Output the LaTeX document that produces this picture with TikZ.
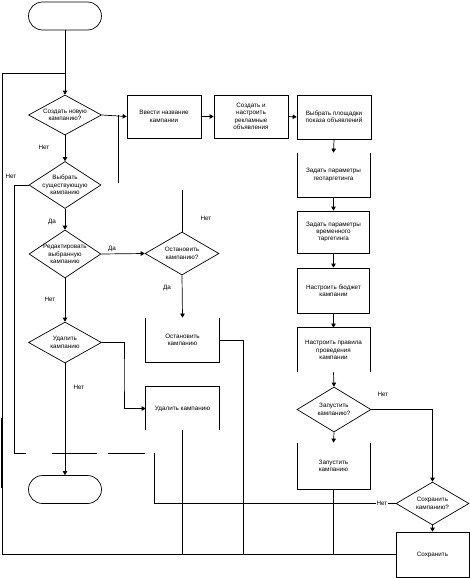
\documentclass[tikz,border=0pt]{standalone}
\usepackage{fontspec}
\setmainfont{Liberation Sans}
\usetikzlibrary{shapes.geometric,arrows.meta}
\begin{document}
\begin{tikzpicture}[x=1pt,y=-1pt,line width=0.7pt,
 every node/.style={font=\fontsize{6.3}{7.4}\selectfont, align=center, inner sep=0pt},
 proc/.style={draw, minimum width=73pt, minimum height=44pt},
 procopen/.style={minimum width=73pt, minimum height=44pt},
 dia/.style={draw, diamond, minimum width=73pt, minimum height=44pt},
 term/.style={draw, rounded corners=14pt, minimum width=73pt, minimum height=28pt},
 lbl/.style={fill=white, inner sep=0.8pt},
 arr/.style={-{Triangle[length=4pt,width=4.5pt]}},
 thickside/.style={line width=1.3pt}]
\useasboundingbox (0,0) rectangle (470,578);
\fill[white] (0,0) rectangle (470,578);

% terminals
\node[term] (t1) at (65,16) {};
\node[term] (t2) at (65,489.5) {};

% left column diamonds
\node[dia, minimum width=73pt, minimum height=40pt] (d1) at (65,115) {};
\node (d1t) at (d1) {Создать новую\\кампанию?};
\node[dia, minimum width=72pt, minimum height=47pt] (d2) at (65,185) {};
\node (d2t) at (d2) {Выбрать\\существующую\\кампанию};
\node[dia, minimum width=72pt, minimum height=48pt] (d3) at (65,254) {};
\node (d3t) at (d3) {Редактировать\\выбранную\\кампанию};
\node[dia, minimum width=73pt, minimum height=41pt] (d5) at (65,342.5) {};
\node (d5t) at (d5) {Удалить\\кампанию};

% middle column
\node[dia, minimum width=74pt, minimum height=43pt] (d4) at (182,253.5) {};
\node (d4t) at (d4) {Остановить\\кампанию?};
\node[procopen] (ost) at (182.5,340) {Остановить\\кампанию};
\draw[thickside] (ost.north west) -- (ost.south west) -- (ost.south east) -- (ost.north east);
\node[procopen, minimum height=43pt] (del) at (182.5,408.5) {Удалить кампанию};
\draw[thickside] (del.south west) -- (del.north west) -- (del.north east) -- (del.south east);

% top row
\node[proc, minimum width=74pt, minimum height=43pt] (b1) at (164,116.5) {Ввести название\\кампании};
\node[proc, minimum width=74pt, minimum height=43pt] (b2) at (251,116.5) {Создать и\\настроить\\рекламные\\объявления};
\node[proc, minimum width=74pt, minimum height=44pt] (b3) at (334,117) {Выбрать площадки\\показа объявлений};

% right column
\node[procopen, minimum width=72pt] (b4) at (333.5,175) {Задать параметры\\геотаргетинга};
\draw (b4.north west) -- (b4.south west) -- (b4.south east) -- (b4.north east);
\node[proc, minimum width=72pt, minimum height=42pt] (b5) at (333.5,232) {Задать параметры\\временного\\таргетинга};
\node[proc, minimum width=72pt, minimum height=45pt] (b6) at (333.5,290.5) {Настроить бюджет\\кампании};
\node[procopen, minimum width=72pt] (b7) at (333.5,350) {Настроить правила\\проведения\\кампании};
\draw (b7.south west) -- (b7.north west) -- (b7.north east) -- (b7.south east);
\node[dia, minimum width=74pt, minimum height=45pt] (d6) at (334,409.5) {};
\node (d6t) at (d6) {Запустить\\кампанию?};
\node[procopen, minimum width=72pt, minimum height=46pt] (zap) at (333.5,466) {Запустить\\кампанию};
\draw (zap.north west) -- (zap.south west) -- (zap.south east) -- (zap.north east);
\node[dia, minimum width=73pt, minimum height=43pt] (d7) at (432.5,503.5) {};
\node (d7t) at (d7) {Сохранить\\кампанию?};
\node[proc, minimum width=73pt, minimum height=45pt] (save) at (432.5,554.5) {Сохранить};

% coordinates
\coordinate (lpTop) at (2,73);
\coordinate (j1) at (118,183);
\coordinate (k1) at (124,375);
\coordinate (d4in) at (182,190);
\coordinate (g1) at (154,453);
\coordinate (g2c) at (14,453);
\coordinate (g2) at (26,453);
\coordinate (g3a) at (52,453);
\coordinate (g3b) at (97,453);
\coordinate (g4a) at (108,453);
\coordinate (g4b) at (145,453);
\coordinate (ostR) at (243,555);

% connectors
\draw[arr] (t1.south) -- (d1.north);
\draw (save.west) -| (lpTop) -- (lpTop -| t1.south);
\draw[arr] (d1.east) -- (b1.west);
\draw (j1) -- (j1 |- d1.east);
\draw[arr] (b1.east) -- (b2.west);
\draw[arr] (b2.east) -- (b3.west);
\draw[arr] (b3.south) -- (b4.north);
\draw[arr] (b4.south) -- (b5.north);
\draw[arr] (b5.south) -- (b6.north);
\draw[arr] (b6.south) -- (b7.north);
\draw[arr] (b7.south) -- (d6.north);
\draw[arr] (d6.south) -- (zap.north);
\draw[arr] (d6.east) -| (d7.north);
\draw[arr] (d7.south) -- (save.north);
\draw (d7.west) -| (g1);
\draw (d2.west) -| (g2c) -- (g2);
\draw (g3a) -- (g3b);
\draw (g4a) -- (g4b);

\draw[arr] (d1.south) -- (d2.north);
\draw[arr] (d2.south) -- (d3.north);
\draw[arr] (d3.east) -- (d4.west);
\draw[arr] (d3.south) -- (d5.north);
\draw[arr] (d5.south) -- (t2.north);
\draw[arr] (d5.east) -| (k1) |- (del.west);
\draw (d4in) -- (d4.north);
\draw[arr] (d4.south) -- (ost.north);
\draw (ost.east) -| (ostR);
\draw (del.south) -- (del.south |- save.west);
\draw (zap.south) -- (zap.south |- save.west);

% heavier segments as in the reference
\draw[thickside] (2,418) -- (2,488);
\draw[thickside] (del.south |- 0,478) -- (del.south |- save.west);

% labels
\node[lbl] (l1) at (44,147) {Нет};
\node[lbl] (l2) at (11,176) {Нет};
\node[lbl] (l3) at (52,222) {Да};
\node[lbl] (l4) at (112,249) {Да};
\node[lbl] (l5) at (206,218) {Нет};
\node[lbl] (l6) at (167,288) {Да};
\node[lbl] (l7) at (50,299) {Нет};
\node[lbl] (l8) at (79,387) {Нет};
\node[lbl] (l9) at (383,394) {Нет};
\node[lbl] (l10) at (382,503.5) {Нет};
\end{tikzpicture}
\end{document}
